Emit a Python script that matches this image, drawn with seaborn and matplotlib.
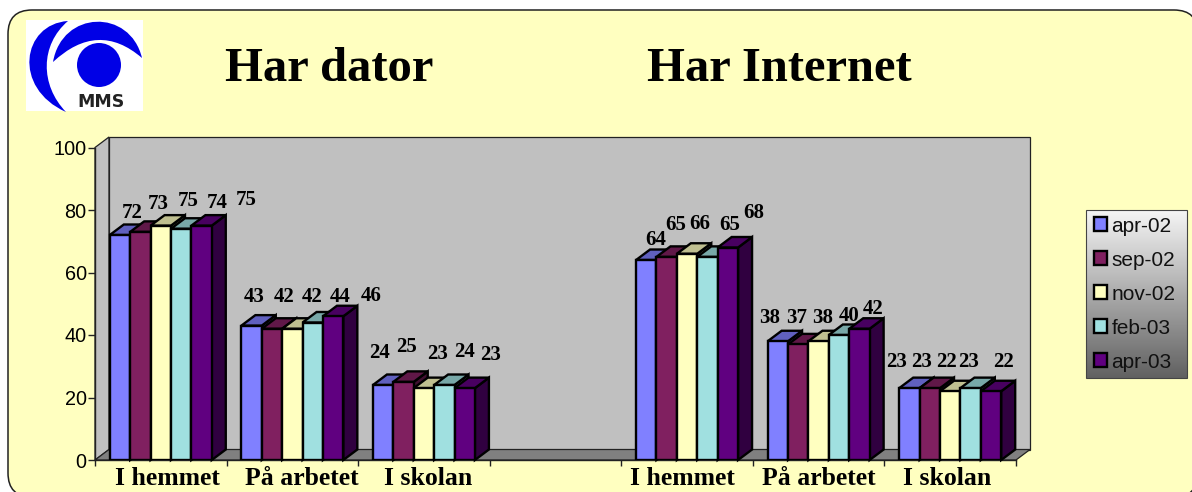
import numpy as np
import pandas as pd
import matplotlib
matplotlib.use("Agg")
import matplotlib.pyplot as plt
from matplotlib.patches import Circle, FancyBboxPatch, PathPatch, Polygon, Rectangle
from matplotlib.path import Path
from matplotlib.colors import to_rgb
import seaborn as sns

# Data
group_keys = ["dator_hem", "dator_arb", "dator_sko", "tom", "net_hem", "net_arb", "net_sko"]
group_labels = ["I hemmet", "På arbetet", "I skolan", "I hemmet", "På arbetet", "I skolan"]
filled_keys = ["dator_hem", "dator_arb", "dator_sko", "net_hem", "net_arb", "net_sko"]
periods = ["apr-02", "sep-02", "nov-02", "feb-03", "apr-03"]
apr_02 = [72, 43, 24, 64, 38, 23]
sep_02 = [73, 42, 25, 65, 37, 23]
nov_02 = [75, 42, 23, 66, 38, 22]
feb_03 = [74, 44, 24, 65, 40, 23]
apr_03 = [75, 46, 23, 68, 42, 22]
colors = ["#8080FF", "#802060", "#FFFFC0", "#A0E0E0", "#600080"]

# Label nudges in pixels (the labels were placed by hand in the original)
label_dx = [[12, 18, 27, 36, 45], [3, 12, 20, 27, 38], [-4, 3, 14, 20, 26],
            [9, 9, 13, 22, 26], [-8, -2, 4, 10, 14], [-13, -8, -4, -2, 12]]
label_dy = [[22, 28, 25, 26, 26], [29, 32, 32, 25, 20], [32, 35, 34, 33, 33],
            [20, 32, 30, 32, 34], [23, 26, 23, 19, 20], [26, 26, 29, 26, 29]]
tick_shift = [7, 9, 4, -5, 0, -3]

W, H = 1192, 492
SERIF = "Liberation Serif"
SANS = "Liberation Sans"

sns.set_theme(style="white")
plt.rcParams["font.family"] = [SANS, "DejaVu Sans"]

df = pd.DataFrame({
    "grupp": filled_keys * 5,
    "period": np.repeat(periods, 6),
    "andel": apr_02 + sep_02 + nov_02 + feb_03 + apr_03,
})

fig = plt.figure(figsize=(W / 100, H / 100), dpi=100, facecolor="white")

# Background panel, logo and legend box, in pixel coordinates
bg = fig.add_axes([0, 0, 1, 1], zorder=0)
bg.add_patch(FancyBboxPatch((8 + 24, 10 + 24), 1190 - 48, 487 - 48,
                            boxstyle="round,pad=24,rounding_size=24",
                            fc="#FFFFC0", ec="#222222", lw=1.1))
bg.add_patch(Rectangle((26, 20), 117, 91, fc="white", ec="none"))
blue = "#0000E6"
left_moon = Path([(68, 21), (22, 24), (12, 88), (66, 112), (40, 85), (40, 45), (68, 21)],
                 [Path.MOVETO, Path.CURVE4, Path.CURVE4, Path.CURVE4,
                  Path.CURVE4, Path.CURVE4, Path.CURVE4])
top_moon = Path([(53, 62), (62, 10), (130, 8), (142, 58), (98, 20), (53, 62)],
                [Path.MOVETO, Path.CURVE4, Path.CURVE4, Path.CURVE4, Path.CURVE3, Path.CURVE3])
bg.add_patch(PathPatch(left_moon, fc=blue, ec="none"))
bg.add_patch(PathPatch(top_moon, fc=blue, ec="none"))
bg.add_patch(Circle((99, 65), 22, fc=blue, ec="none"))
bg.text(101, 102, "MMS", ha="center", va="center", fontsize=12.5, weight="bold",
        color="#222222", family="DejaVu Sans")
grad = np.linspace(0.96, 0.38, 256).reshape(-1, 1)
bg.imshow(grad, extent=(1086, 1187, 378, 210), cmap="gray", vmin=0, vmax=1,
          aspect="auto", zorder=2)
bg.add_patch(Rectangle((1086, 210), 101, 168, fc="none", ec="#444444", lw=0.8, zorder=3))
bg.set_xlim(0, W)
bg.set_ylim(H, 0)
bg.axis("off")

bg.text(329, 69, "Har dator", ha="center", va="center", fontsize=35,
        weight="bold", family=SERIF, color="black")
bg.text(779, 69, "Har Internet", ha="center", va="center", fontsize=35,
        weight="bold", family=SERIF, color="black")

# Front plane of the chart
x0, x1, y0, y1 = 95, 1016, 460, 147.5
ax = fig.add_axes([x0 / W, 1 - y0 / H, (x1 - x0) / W, (y0 - y1) / H], zorder=1)
ax.patch.set_visible(False)

sns.barplot(data=df, x="grupp", y="andel", hue="period", order=group_keys,
            hue_order=periods, palette=colors, width=0.775, saturation=1,
            edgecolor="black", linewidth=1.7, ax=ax)
ax.set_xlim(-0.5, 6.5)
ax.set_ylim(0, 100)

# Depth of the fake 3D look, pixels turned into data units
dx = 14 / ((x1 - x0) / 7)
dy = 10.5 / ((y0 - y1) / 100)

ax.add_patch(Polygon([(-0.5, 0), (-0.5 + dx, dy), (-0.5 + dx, 100 + dy), (-0.5, 100)],
                     fc="#C0C0C0", ec="#222222", lw=0.9, clip_on=False, zorder=1))
ax.add_patch(Polygon([(-0.5 + dx, dy), (6.5 + dx, dy), (6.5 + dx, 100 + dy), (-0.5 + dx, 100 + dy)],
                     fc="#C0C0C0", ec="#222222", lw=0.9, clip_on=False, zorder=1))
ax.add_patch(Polygon([(-0.5, 0), (6.5, 0), (6.5 + dx, dy), (-0.5 + dx, dy)],
                     fc="#808080", ec="#222222", lw=0.9, clip_on=False, zorder=1))

# Sides, tops and value labels from the bars seaborn drew
bars = sorted([b for b in ax.patches if isinstance(b, Rectangle) and b.get_height() > 0
               and b.get_width() < 0.5 and b.get_facecolor()[:3] in [to_rgb(c) for c in colors]],
              key=lambda b: b.get_x())
for n, bar in enumerate(bars):
    x, w, h = bar.get_x(), bar.get_width(), bar.get_height()
    rgb = np.array(bar.get_facecolor()[:3])
    z = 3 + n
    ax.add_patch(Polygon([(x + w, 0), (x + w + dx, dy), (x + w + dx, h + dy), (x + w, h)],
                         fc=rgb * 0.5, ec="black", lw=1.7, clip_on=False, zorder=z))
    ax.add_patch(Polygon([(x, h), (x + dx, h + dy), (x + w + dx, h + dy), (x + w, h)],
                         fc=rgb * 0.75, ec="black", lw=1.7, clip_on=False, zorder=z))
    bar.set_zorder(z + 0.5)
    g, s = n // 5, n % 5
    ax.annotate(f"{h:.0f}", (x + w / 2, h), xytext=(label_dx[g][s], label_dy[g][s]),
                textcoords="offset pixels", ha="center", va="center", fontsize=15,
                weight="bold", family=SERIF, color="black", zorder=50)

handles, labels = ax.get_legend_handles_labels()
ax.legend(handles, labels, loc="center", bbox_to_anchor=(1135 / W, 1 - 294 / H),
          bbox_transform=fig.transFigure, frameon=False, fontsize=15, ncol=1,
          handlelength=0.62, handleheight=0.62, handletextpad=0.2, labelspacing=0.72,
          borderpad=0, labelcolor="#111111")

# Axes: ticks between the groups, group names where they sit in the original
label_pos = [i + s / ((x1 - x0) / 7) for i, s in zip([0, 1, 2, 4, 5, 6], tick_shift)]
ax.set_xticks(label_pos, group_labels, fontsize=18.5, weight="bold", family=SERIF, color="black")
ax.set_xticks(np.arange(-0.5, 7), minor=True)
ax.tick_params(axis="x", which="major", length=0, pad=5)
ax.tick_params(axis="x", which="minor", length=4, width=1, color="#222222", bottom=True)
ax.set_yticks([0, 20, 40, 60, 80, 100])
ax.tick_params(axis="y", length=5, width=1, color="#222222", labelsize=14.3,
               labelcolor="black", pad=1, left=True)
ax.set_xlabel("")
ax.set_ylabel("")
sns.despine(ax=ax, top=True, right=True)
ax.spines["left"].set_color("#222222")
ax.spines["bottom"].set_color("#222222")
ax.spines["left"].set_linewidth(1)
ax.spines["bottom"].set_linewidth(1)

fig.savefig("out.png", dpi=100)
